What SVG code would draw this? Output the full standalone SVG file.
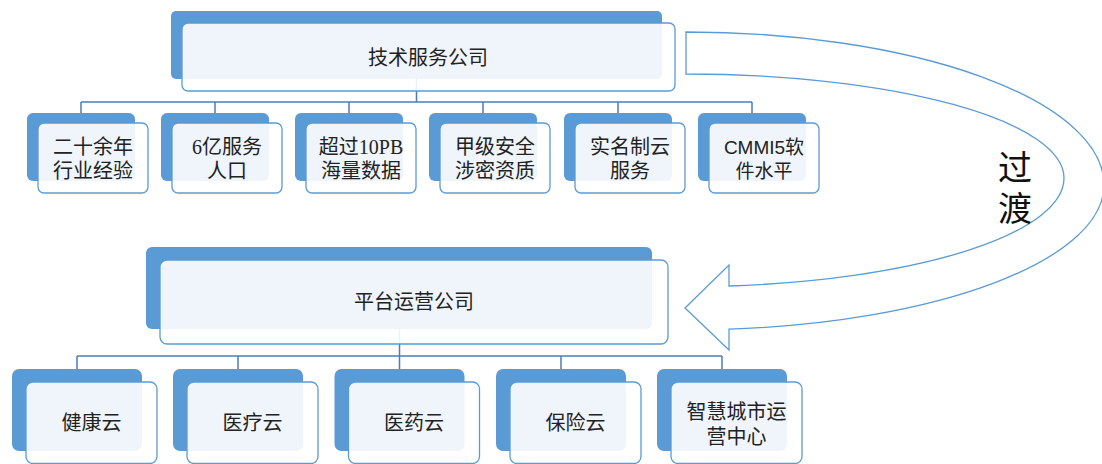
<svg xmlns="http://www.w3.org/2000/svg" width="1102" height="464" viewBox="0 0 1102 464">
<style>
.back{fill:#5B9BD5;}
.front{fill:#fff;fill-opacity:0.9;stroke:#5B9BD5;stroke-width:1.3;}
.conn{fill:none;stroke:#4A7EBB;stroke-width:1.5;}
.t{font-family:"Liberation Serif","Noto Sans CJK SC",serif;font-size:20px;fill:#222;text-anchor:middle;}
.ts{font-family:"Liberation Sans","Noto Sans CJK SC",sans-serif;font-size:19px;fill:#222;text-anchor:middle;}
.big{font-family:"Liberation Serif","Noto Sans CJK SC",serif;font-size:34px;fill:#111;text-anchor:middle;}
.arrow{fill:#fff;stroke:#5B9BD5;stroke-width:1.3;stroke-linejoin:miter;}
</style>
<rect width="1102" height="464" fill="#fff"/>
<g id="connectors">
<path class="conn" d="M416.5 79 V102 M81 102 H752 M81 102 V113 M215 102 V113 M349 102 V113 M483 102 V113 M618 102 V113 M752 102 V113"/>
<path class="conn" d="M399.5 329 V356 M77 356 H722 M77 356 V369 M238 356 V369 M399.5 356 V369 M561 356 V369 M722 356 V369"/>
</g>
<g id="transition-arrow">
<path class="arrow" d="M686 32 A418 153 0 0 1 1104 185 A418 145 0 0 1 729 329.2 L729 350 L685 308 L729 265 L729 286 A378 108.7 0 0 0 1064 178 A378 104 0 0 0 686 74 Z"/>
<text class="big" x="1015" y="180">过</text>
<text class="big" x="1015" y="221">渡</text>
</g>
<g id="tech-service-company">
<rect class="back" x="171" y="11" width="491" height="68" rx="5"/>
<rect class="front" x="182" y="23" width="493" height="68" rx="6"/>
<text class="t" x="428" y="64.6">技术服务公司</text>
</g>
<g id="node-t1">
<rect class="back" x="27" y="113" width="108" height="68" rx="6"/>
<rect class="front" x="38" y="123" width="110" height="70" rx="6"/>
<text class="t" x="93" y="153.6">二十余年</text>
<text class="t" x="93" y="177.6">行业经验</text>
</g>
<g id="node-t2">
<rect class="back" x="161" y="113" width="108" height="68" rx="6"/>
<rect class="front" x="172" y="123" width="110" height="70" rx="6"/>
<text class="t" x="227" y="153.6">6亿服务</text>
<text class="t" x="227" y="177.6">人口</text>
</g>
<g id="node-t3">
<rect class="back" x="295" y="113" width="108" height="68" rx="6"/>
<rect class="front" x="306" y="123" width="110" height="70" rx="6"/>
<text class="t" x="361" y="153.6">超过10PB</text>
<text class="t" x="361" y="177.6">海量数据</text>
</g>
<g id="node-t4">
<rect class="back" x="429" y="113" width="108" height="68" rx="6"/>
<rect class="front" x="440" y="123" width="110" height="70" rx="6"/>
<text class="t" x="495" y="153.6">甲级安全</text>
<text class="t" x="495" y="177.6">涉密资质</text>
</g>
<g id="node-t5">
<rect class="back" x="564" y="113" width="108" height="68" rx="6"/>
<rect class="front" x="575" y="123" width="110" height="70" rx="6"/>
<text class="t" x="630" y="153.6">实名制云</text>
<text class="t" x="630" y="177.6">服务</text>
</g>
<g id="node-t6">
<rect class="back" x="698" y="113" width="108" height="68" rx="6"/>
<rect class="front" x="709" y="123" width="110" height="70" rx="6"/>
<text class="ts" x="764" y="153.6">CMMI5软</text>
<text class="ts" x="764" y="177.6">件水平</text>
</g>
<g id="platform-operation-company">
<rect class="back" x="146" y="247" width="506" height="82" rx="6"/>
<rect class="front" x="160" y="260" width="508" height="84" rx="7"/>
<text class="t" x="414" y="308.6">平台运营公司</text>
</g>
<g id="node-b1">
<rect class="back" x="12" y="369" width="130" height="82" rx="7"/>
<rect class="front" x="26" y="382" width="131" height="81.5" rx="7"/>
<text class="t" x="91.5" y="430">健康云</text>
</g>
<g id="node-b2">
<rect class="back" x="173" y="369" width="130" height="82" rx="7"/>
<rect class="front" x="187" y="382" width="131" height="81.5" rx="7"/>
<text class="t" x="252.5" y="430">医疗云</text>
</g>
<g id="node-b3">
<rect class="back" x="334.5" y="369" width="130" height="82" rx="7"/>
<rect class="front" x="348.5" y="382" width="131" height="81.5" rx="7"/>
<text class="t" x="414" y="430">医药云</text>
</g>
<g id="node-b4">
<rect class="back" x="496" y="369" width="130" height="82" rx="7"/>
<rect class="front" x="510" y="382" width="131" height="81.5" rx="7"/>
<text class="t" x="575.5" y="430">保险云</text>
</g>
<g id="node-b5">
<rect class="back" x="657" y="369" width="130" height="82" rx="7"/>
<rect class="front" x="671" y="382" width="131" height="81.5" rx="7"/>
<text class="t" x="736.5" y="418.6">智慧城市运</text>
<text class="t" x="736.5" y="443.6">营中心</text>
</g>
</svg>
